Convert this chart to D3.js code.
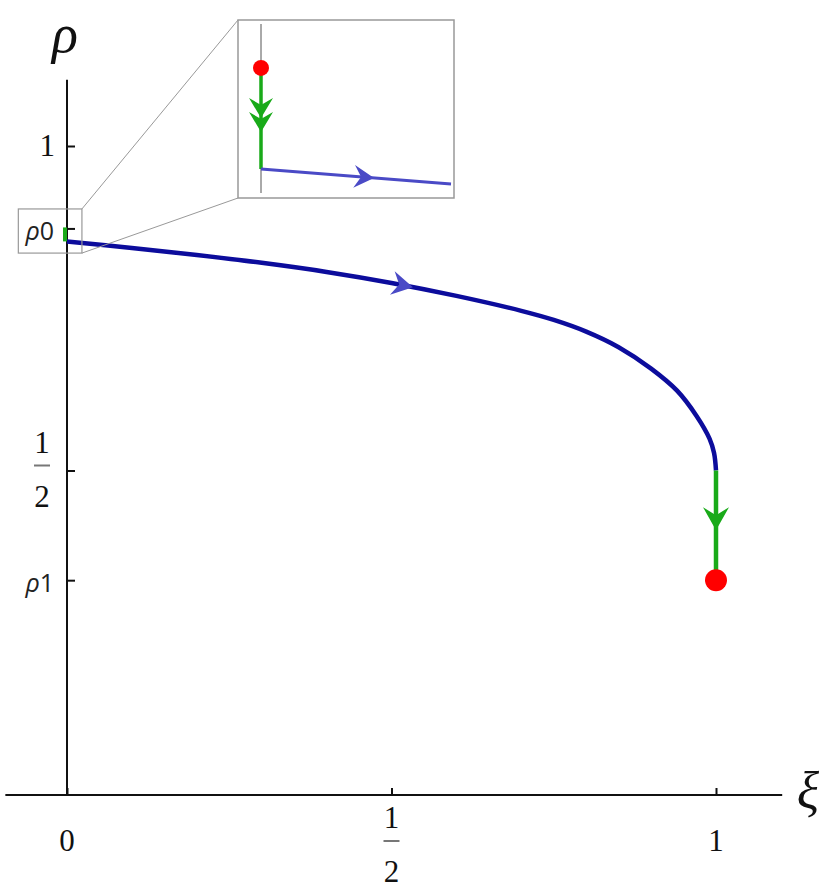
<!DOCTYPE html>
<html>
<head>
<meta charset="utf-8">
<script src="https://d3js.org/d3.v7.min.js"></script>
<style>
  body { margin:0; background:#fff; }
  svg { display:block; }
  .num { font-family:"Liberation Serif","Times New Roman",serif; font-size:31px; fill:#111; }
  .sym { font-family:"Liberation Serif","Times New Roman",serif; font-style:italic; fill:#111; }
  .rho { font-family:"Open Sans","DejaVu Sans",sans-serif; font-size:25px; fill:#222; }
</style>
</head>
<body>
<script>
// trajectory (xi, rho)
const xiValues  = [0, 0.1, 0.2, 0.3, 0.4, 0.5, 0.6, 0.7, 0.75, 0.8, 0.85, 0.9, 0.94, 0.97, 0.99, 0.997, 1];
const rhoValues = [0.853, 0.843, 0.832, 0.820, 0.806, 0.789, 0.769, 0.746, 0.732, 0.714, 0.690, 0.657, 0.623, 0.584, 0.549, 0.527, 0.5];

const rho0 = 0.873;
const rho1 = 0.331;
const rhoStart = 0.853;   // where the blue curve leaves the axis
const rhoBend = 0.5;      // where the curve meets xi = 1

const xTickValues = [0, 0.5, 1];
const xTickLabels = ["0", "1/2", "1"];
const yTickValues = [1, rho0, 0.5, rho1];
const yTickLabels = ["1", "ρ0", "1/2", "ρ1"];

const blueArrowXi = 0.533;     // tip of arrow on the curve
const greenArrowRho = 0.408;   // tip of arrow on xi = 1

// zoom box around (0, rho0) in data units
const zoomXi = [-0.075, 0.023];
const zoomRho = [0.835, 0.903];

// inset (schematic) data, own unit square
const insetDot = [0, 0.74];
const insetCorner = [0, 0.142];
const insetEnd = [1, 0.053];
const insetGreenTips = [0.444, 0.361];
const insetBlueTip = 0.595;

const W = 830, H = 888;
const svg = d3.select("body").append("svg").attr("width", W).attr("height", H);

const x = d3.scaleLinear().domain([0, 1]).range([67, 716]);
const y = d3.scaleLinear().domain([0, 1]).range([795, 146]);

const blueDark = "#0c0c9c", blueLight = "#4a4ac6", green = "#19aa19", red = "#ff0000";

function arrowPath(len, hw, notch) {
  return "M0,0 L" + (-len) + "," + (-hw) + " L" + (-len + notch) + ",0 L" + (-len) + "," + hw + " Z";
}

// axis lines
svg.append("line")
  .attr("x1", x(-0.095)).attr("x2", x(1.102))
  .attr("y1", y(0)).attr("y2", y(0))
  .attr("stroke", "#111").attr("stroke-width", 2);
svg.append("line")
  .attr("x1", x(0)).attr("x2", x(0))
  .attr("y1", y(0)).attr("y2", y(1.102))
  .attr("stroke", "#111").attr("stroke-width", 2);

// ticks
svg.append("g")
  .attr("transform", "translate(0," + y(0) + ")")
  .call(d3.axisTop(x).tickValues(xTickValues).tickSize(7).tickFormat(""))
  .call(g => g.select(".domain").remove())
  .call(g => g.selectAll("line").attr("stroke", "#111").attr("stroke-width", 2));
svg.append("g")
  .attr("transform", "translate(" + x(0) + ",0)")
  .call(d3.axisRight(y).tickValues(yTickValues).tickSize(8).tickFormat(""))
  .call(g => g.select(".domain").remove())
  .call(g => g.selectAll("line").attr("stroke", "#111").attr("stroke-width", 2));

// tick labels
function fraction(g, cx, barY, label) {
  const p = label.split("/");
  g.append("text").attr("class", "num").attr("x", cx).attr("y", barY - 13)
    .attr("text-anchor", "middle").text(p[0]);
  g.append("line").attr("x1", cx - 8).attr("x2", cx + 8).attr("y1", barY).attr("y2", barY)
    .attr("stroke", "#777").attr("stroke-width", 2);
  g.append("text").attr("class", "num").attr("x", cx).attr("y", barY + 41)
    .attr("text-anchor", "middle").text(p[1]);
}

xTickValues.forEach((v, i) => {
  const lab = xTickLabels[i];
  if (lab.includes("/")) fraction(svg, x(v), 841, lab);
  else svg.append("text").attr("class", "num").attr("x", x(v)).attr("y", 851)
    .attr("text-anchor", "middle").text(lab);
});

yTickValues.forEach((v, i) => {
  const lab = yTickLabels[i];
  if (lab.includes("/")) fraction(svg, 42, y(v) - 5, lab);
  else if (lab.startsWith("ρ")) {
    const t = svg.append("text").attr("class", "rho").attr("x", 54).attr("y", y(v) + 12)
      .attr("text-anchor", "end");
    t.append("tspan").attr("font-style", "italic").text("ρ");
    t.append("tspan").text(lab.slice(1));
  } else svg.append("text").attr("class", "num").attr("x", 55).attr("y", y(v) + 10)
    .attr("text-anchor", "end").text(lab);
});

// axis names
svg.append("text").attr("class", "sym").attr("x", 65).attr("y", 52)
  .attr("text-anchor", "middle").attr("font-size", 54).text("ρ");
svg.append("text").attr("class", "sym").attr("x", 808).attr("y", 808)
  .attr("text-anchor", "middle").attr("font-size", 52).text("ξ");

// green piece at xi = 0
svg.append("line")
  .attr("x1", x(0) - 2).attr("x2", x(0) - 2)
  .attr("y1", y(rho0) - 1).attr("y2", y(rhoStart))
  .attr("stroke", green).attr("stroke-width", 4);

// blue curve
const pts = xiValues.map((v, i) => [v, rhoValues[i]]);
const line = d3.line().x(d => x(d[0])).y(d => y(d[1])).curve(d3.curveCatmullRom.alpha(0.5));
svg.append("path").attr("d", line(pts))
  .attr("fill", "none").attr("stroke", blueDark).attr("stroke-width", 4.5);

// green descent at xi = 1
svg.append("line")
  .attr("x1", x(1)).attr("x2", x(1))
  .attr("y1", y(rhoBend)).attr("y2", y(rho1))
  .attr("stroke", green).attr("stroke-width", 4.5);

// arrow on blue curve
const k = d3.bisectRight(xiValues, blueArrowXi) - 1;
const f = (blueArrowXi - xiValues[k]) / (xiValues[k + 1] - xiValues[k]);
const tipRho = rhoValues[k] + f * (rhoValues[k + 1] - rhoValues[k]);
const ang = Math.atan2(y(rhoValues[k + 1]) - y(rhoValues[k]), x(xiValues[k + 1]) - x(xiValues[k])) * 180 / Math.PI;
svg.append("path").attr("d", arrowPath(21, 12, 7))
  .attr("transform", "translate(" + x(blueArrowXi) + "," + y(tipRho) + ") rotate(" + ang + ")")
  .attr("fill", blueLight);

// arrow on green
svg.append("path").attr("d", arrowPath(23, 13, 8))
  .attr("transform", "translate(" + x(1) + "," + y(greenArrowRho) + ") rotate(90)")
  .attr("fill", green);

// end point
svg.append("circle").attr("cx", x(1)).attr("cy", y(rho1)).attr("r", 11).attr("fill", red);

// zoom box and inset
const bx0 = x(zoomXi[0]), bx1 = x(zoomXi[1]), by0 = y(zoomRho[1]), by1 = y(zoomRho[0]);
const inset = { x: 238, y: 20, w: 216, h: 178 };

svg.append("rect").attr("x", bx0).attr("y", by0).attr("width", bx1 - bx0).attr("height", by1 - by0)
  .attr("fill", "none").attr("stroke", "#999").attr("stroke-width", 1.2);
svg.append("line").attr("x1", bx1).attr("y1", by0).attr("x2", inset.x).attr("y2", inset.y)
  .attr("stroke", "#999").attr("stroke-width", 1);
svg.append("line").attr("x1", bx1).attr("y1", by1).attr("x2", inset.x).attr("y2", inset.y + inset.h)
  .attr("stroke", "#999").attr("stroke-width", 1);

const ig = svg.append("g");
ig.append("rect").attr("x", inset.x).attr("y", inset.y).attr("width", inset.w).attr("height", inset.h)
  .attr("fill", "#fff").attr("stroke", "#999").attr("stroke-width", 1.5);

const ix = d3.scaleLinear().domain([0, 1]).range([261, 451]);
const iy = d3.scaleLinear().domain([0, 1]).range([193, 24]);

ig.append("line").attr("x1", ix(0)).attr("x2", ix(0)).attr("y1", iy(0)).attr("y2", iy(1))
  .attr("stroke", "#555").attr("stroke-width", 1);
ig.append("line").attr("x1", ix(insetDot[0])).attr("x2", ix(insetCorner[0]))
  .attr("y1", iy(insetDot[1])).attr("y2", iy(insetCorner[1]))
  .attr("stroke", green).attr("stroke-width", 3.5);
ig.append("line").attr("x1", ix(insetCorner[0])).attr("x2", ix(insetEnd[0]))
  .attr("y1", iy(insetCorner[1])).attr("y2", iy(insetEnd[1]))
  .attr("stroke", blueLight).attr("stroke-width", 3);
insetGreenTips.forEach(t => {
  ig.append("path").attr("d", arrowPath(20, 12, 7))
    .attr("transform", "translate(" + ix(0) + "," + iy(t) + ") rotate(90)")
    .attr("fill", green);
});
const iAng = Math.atan2(iy(insetEnd[1]) - iy(insetCorner[1]), ix(insetEnd[0]) - ix(insetCorner[0])) * 180 / Math.PI;
const iTipY = insetCorner[1] + (insetEnd[1] - insetCorner[1]) * insetBlueTip;
ig.append("path").attr("d", arrowPath(20, 11.5, 7))
  .attr("transform", "translate(" + ix(insetBlueTip) + "," + iy(iTipY) + ") rotate(" + iAng + ")")
  .attr("fill", blueLight);
ig.append("circle").attr("cx", ix(insetDot[0])).attr("cy", iy(insetDot[1])).attr("r", 8).attr("fill", red);
</script>
</body>
</html>
